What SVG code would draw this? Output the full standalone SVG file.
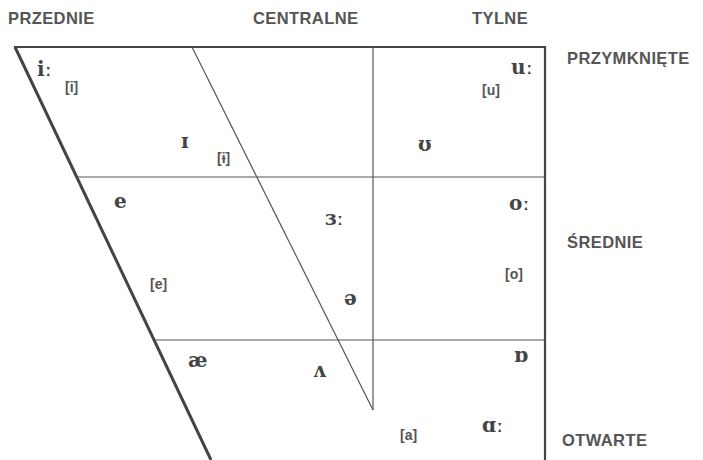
<svg xmlns="http://www.w3.org/2000/svg" width="703" height="460" viewBox="0 0 703 460">
<style>
.lbl{font-family:"Liberation Sans",Arial,sans-serif;font-weight:bold;font-size:16.5px;fill:#555;letter-spacing:0.4px;}
.ipa{font-family:"DejaVu Serif","Liberation Serif",serif;font-weight:bold;font-size:20px;fill:#444;}
.br{font-family:"Liberation Sans",Arial,sans-serif;font-weight:bold;font-size:14px;fill:#555;}
.thin{stroke:#555;stroke-width:1.2;fill:none;}
.thick{stroke:#444;stroke-width:3;fill:none;}
.mid{stroke:#444;stroke-width:2.2;fill:none;}
</style>
<rect width="703" height="460" fill="#fff"/>
<g id="chart">
<line class="mid" x1="14" y1="47" x2="546" y2="47"/>
<line class="mid" x1="545" y1="46" x2="545" y2="460"/>
<line class="thick" x1="15" y1="47" x2="211" y2="460"/>
<line class="thin" x1="78" y1="177" x2="545" y2="177"/>
<line class="thin" x1="155" y1="340" x2="545" y2="340"/>
<line class="thin" x1="373" y1="47" x2="373" y2="410"/>
<line class="thin" x1="192" y1="47" x2="373" y2="410"/>
</g>
<g id="headers">
<text class="lbl" x="8" y="24">PRZEDNIE</text>
<text class="lbl" x="253" y="24">CENTRALNE</text>
<text class="lbl" x="472" y="24">TYLNE</text>
<text class="lbl" x="567" y="64">PRZYMKNIĘTE</text>
<text class="lbl" x="567" y="248">ŚREDNIE</text>
<text class="lbl" x="562" y="446">OTWARTE</text>
</g>
<g id="vowels">
<text class="ipa" x="37" y="76">iː</text>
<text class="br" x="65" y="92">[i]</text>
<text class="ipa" x="181" y="148">ɪ</text>
<text class="br" x="217" y="163">[ɨ]</text>
<text class="ipa" x="114" y="208">e</text>
<text class="br" x="150" y="289">[e]</text>
<text class="ipa" x="325" y="225">ɜː</text>
<text class="ipa" x="344" y="305">ə</text>
<text class="ipa" x="188" y="367">æ</text>
<text class="ipa" x="313" y="377">ʌ</text>
<text class="ipa" x="418" y="151">ʊ</text>
<text class="ipa" x="509" y="210">oː</text>
<text class="br" x="505" y="279">[o]</text>
<text class="ipa" x="511" y="74">uː</text>
<text class="br" x="482" y="95">[u]</text>
<text class="ipa" x="514" y="362">ɒ</text>
<text class="br" x="400" y="440">[a]</text>
<text class="ipa" x="482" y="432">ɑː</text>
</g>
</svg>
